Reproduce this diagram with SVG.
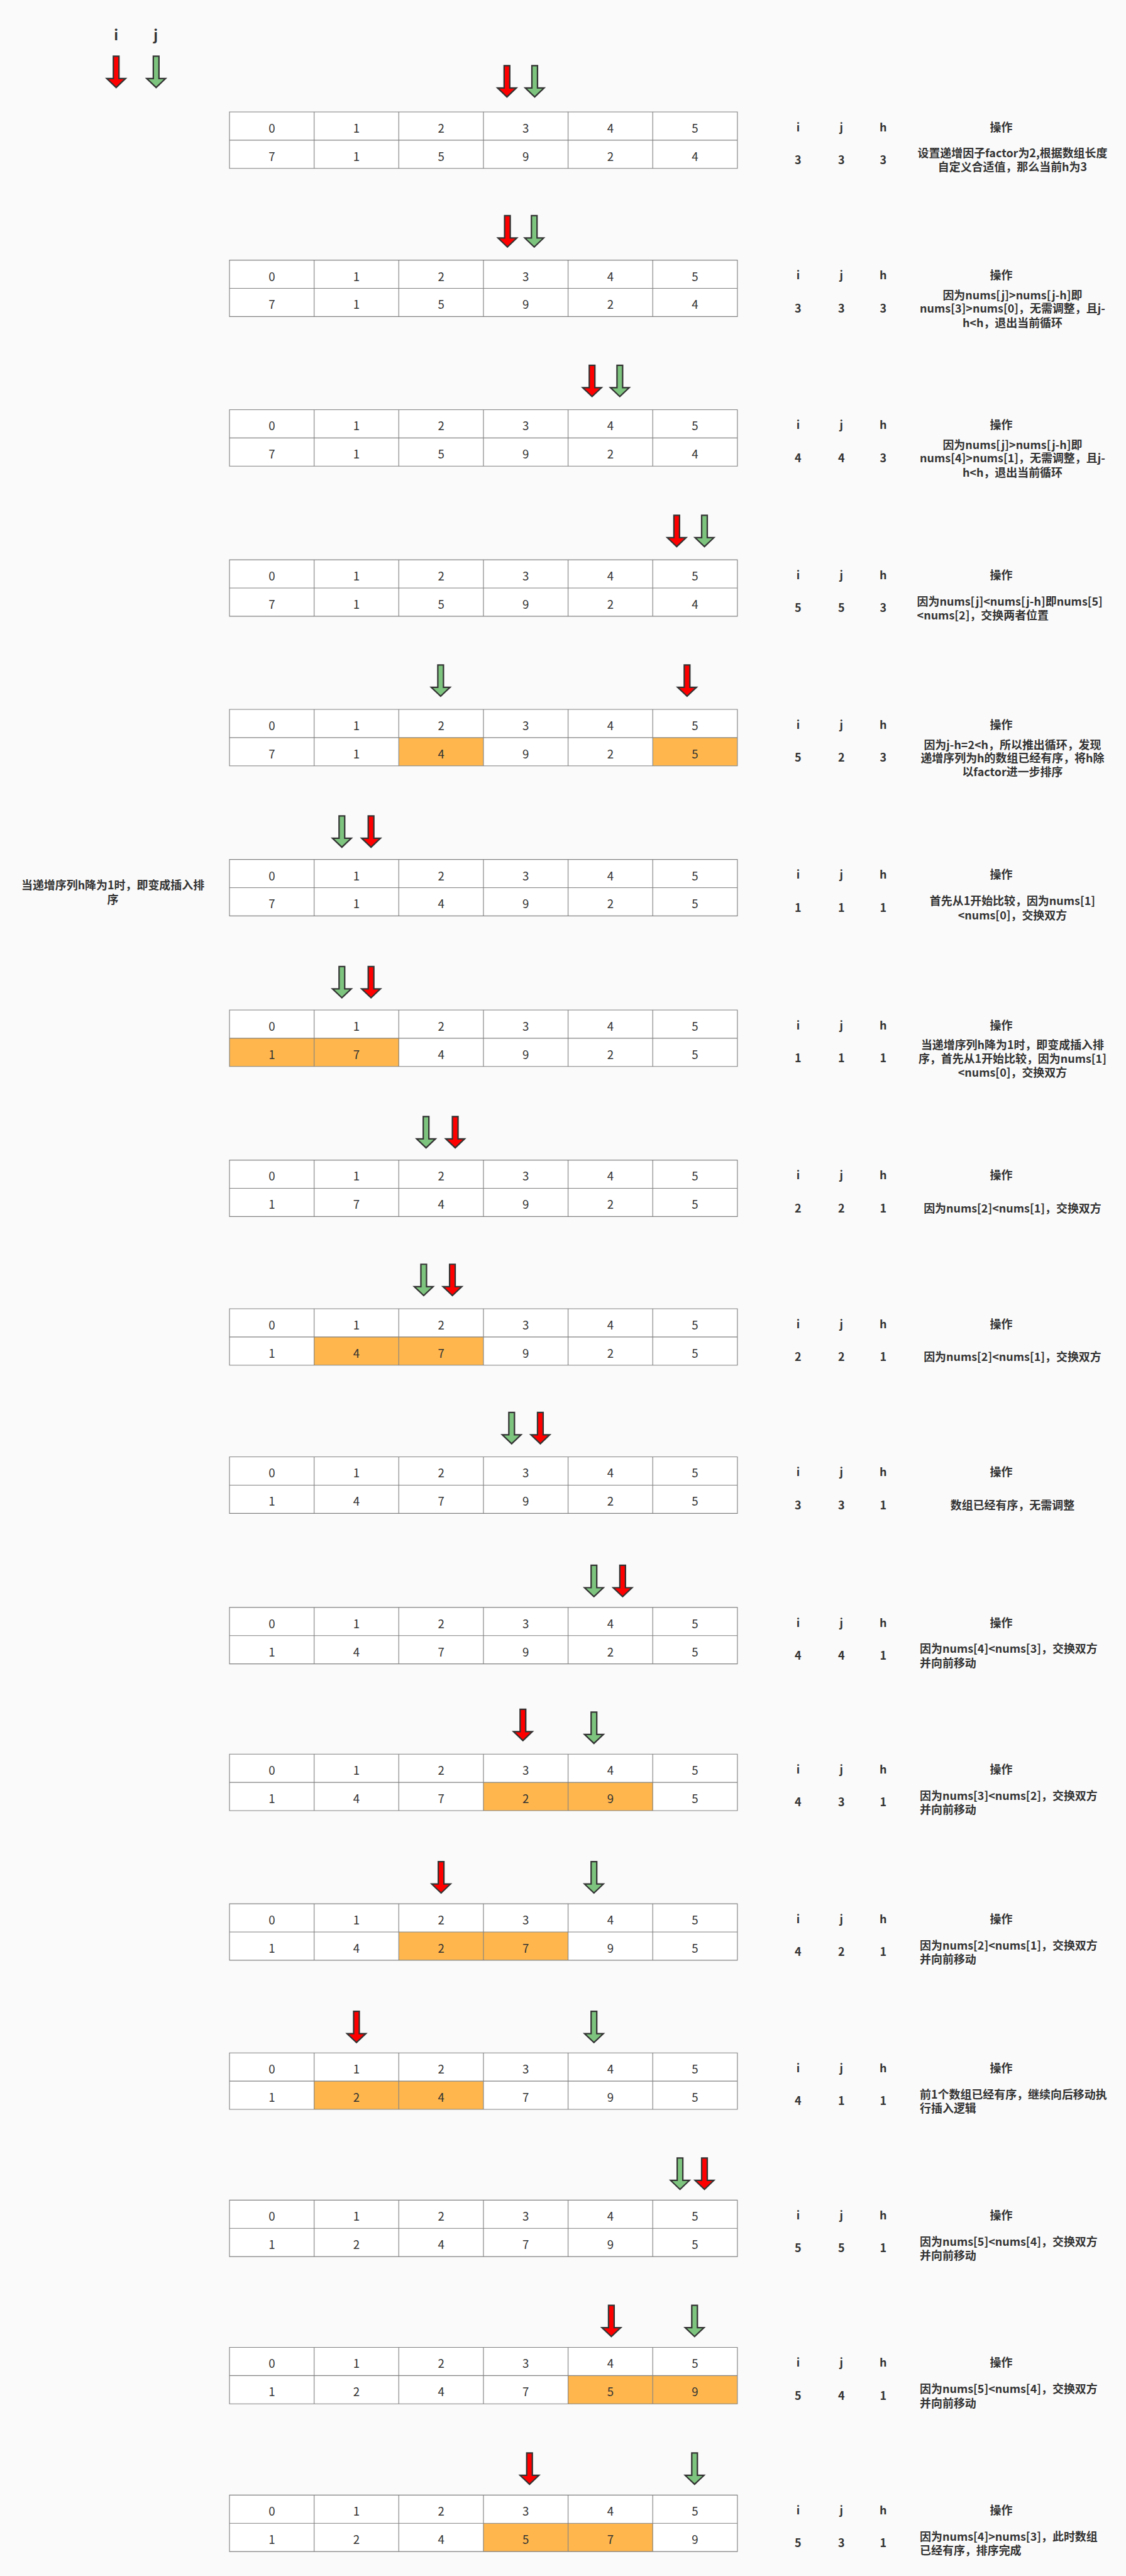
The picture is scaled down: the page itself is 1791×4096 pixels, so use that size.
<svg xmlns="http://www.w3.org/2000/svg" xmlns:xlink="http://www.w3.org/1999/xlink" width="1791" height="4096" viewBox="0 0 1791 4096">
<style>
.bg{fill:#ffffff}
.hl{fill:#FFB74D}
.grid{fill:none;stroke:#808080;stroke-width:1.5}
.num{font-family:"Noto Sans CJK SC","Noto Sans",sans-serif;font-size:25px;fill:#333333;text-anchor:middle}
.hdr{font-family:"Noto Sans CJK SC","Noto Sans",sans-serif;font-size:24px;font-weight:bold;fill:#333333;text-anchor:middle}
.op{font-family:"Noto Sans CJK SC","Noto Sans",sans-serif;font-size:24px;font-weight:bold;fill:#333333;text-anchor:middle}
.opl{font-family:"Noto Sans CJK SC","Noto Sans",sans-serif;font-size:24px;font-weight:bold;fill:#333333;text-anchor:start}
.leg{font-family:"Noto Sans CJK SC","Noto Sans",sans-serif;font-size:30px;font-weight:bold;fill:#333333;text-anchor:middle}
.red{fill:#FF0000}
.green{fill:#7DC47E}
.arrowshape{stroke:#333333;stroke-width:3;stroke-linejoin:miter}
</style>
<defs>
<path id="arrow" class="arrowshape" d="M-6,1.5H6V49H20L0,68L-20,49H-6Z"/>
<path id="grid" class="grid" d="M0,0H1080V120H0Z M0,60H1080 M180,0V120 M360,0V120 M540,0V120 M720,0V120 M900,0V120"/>
<g id="idxrow"><text class="num" y="44"><tspan x="90">0</tspan><tspan x="270">1</tspan><tspan x="450">2</tspan><tspan x="630">3</tspan><tspan x="810">4</tspan><tspan x="990">5</tspan></text></g>
<g id="hdrrow"><text class="hdr" y="41"><tspan x="1697">i</tspan><tspan x="1789">j</tspan><tspan x="1878">h</tspan><tspan x="2129">操作</tspan></text></g>
</defs>
<rect width="1791" height="4096" fill="#FAFAFA"/>
<g transform="scale(0.748)">

<g id="legend">
<text class="leg" x="247" y="85">i</text>
<text class="leg" x="331" y="85">j</text>
<use href="#arrow" x="247" y="118" class="red"/>
<use href="#arrow" x="332" y="118" class="green"/>
</g>

<g id="connectors"></g>

<!-- Step 1 -->
<g id="step1-array" transform="translate(488,238)"><rect class="bg" width="1080" height="120"/><use href="#grid"/><use href="#idxrow"/><text class="num" y="104"><tspan x="90">7</tspan><tspan x="270">1</tspan><tspan x="450">5</tspan><tspan x="630">9</tspan><tspan x="810">2</tspan><tspan x="990">4</tspan></text></g>
<g id="step1-pointers"><use href="#arrow" x="1078" y="138" class="red"/><use href="#arrow" x="1137" y="138" class="green"/></g>
<g id="step1-info" transform="translate(0,238)"><use href="#hdrrow"/><text class="hdr" y="111"><tspan x="1697">3</tspan><tspan x="1789">3</tspan><tspan x="1878">3</tspan></text><text class="op" x="2153" y="96">设置递增因子factor为2,根据数组长度</text><text class="op" x="2153" y="126">自定义合适值，那么当前h为3</text></g>

<!-- Step 2 -->
<g id="step2-array" transform="translate(488,553)"><rect class="bg" width="1080" height="120"/><use href="#grid"/><use href="#idxrow"/><text class="num" y="104"><tspan x="90">7</tspan><tspan x="270">1</tspan><tspan x="450">5</tspan><tspan x="630">9</tspan><tspan x="810">2</tspan><tspan x="990">4</tspan></text></g>
<g id="step2-pointers"><use href="#arrow" x="1079" y="457" class="red"/><use href="#arrow" x="1136" y="457" class="green"/></g>
<g id="step2-info" transform="translate(0,553)"><use href="#hdrrow"/><text class="hdr" y="111"><tspan x="1697">3</tspan><tspan x="1789">3</tspan><tspan x="1878">3</tspan></text><text class="op" x="2153" y="83">因为nums[j]&gt;nums[j-h]即</text><text class="op" x="2153" y="112">nums[3]&gt;nums[0]，无需调整，且j-</text><text class="op" x="2153" y="142">h&lt;h，退出当前循环</text></g>

<!-- Step 3 -->
<g id="step3-array" transform="translate(488,871)"><rect class="bg" width="1080" height="120"/><use href="#grid"/><use href="#idxrow"/><text class="num" y="104"><tspan x="90">7</tspan><tspan x="270">1</tspan><tspan x="450">5</tspan><tspan x="630">9</tspan><tspan x="810">2</tspan><tspan x="990">4</tspan></text></g>
<g id="step3-pointers"><use href="#arrow" x="1259" y="775" class="red"/><use href="#arrow" x="1318" y="775" class="green"/></g>
<g id="step3-info" transform="translate(0,871)"><use href="#hdrrow"/><text class="hdr" y="111"><tspan x="1697">4</tspan><tspan x="1789">4</tspan><tspan x="1878">3</tspan></text><text class="op" x="2153" y="83">因为nums[j]&gt;nums[j-h]即</text><text class="op" x="2153" y="112">nums[4]&gt;nums[1]，无需调整，且j-</text><text class="op" x="2153" y="142">h&lt;h，退出当前循环</text></g>

<!-- Step 4 -->
<g id="step4-array" transform="translate(488,1190)"><rect class="bg" width="1080" height="120"/><use href="#grid"/><use href="#idxrow"/><text class="num" y="104"><tspan x="90">7</tspan><tspan x="270">1</tspan><tspan x="450">5</tspan><tspan x="630">9</tspan><tspan x="810">2</tspan><tspan x="990">4</tspan></text></g>
<g id="step4-pointers"><use href="#arrow" x="1439" y="1094" class="red"/><use href="#arrow" x="1498" y="1094" class="green"/></g>
<g id="step4-info" transform="translate(0,1190)"><use href="#hdrrow"/><text class="hdr" y="111"><tspan x="1697">5</tspan><tspan x="1789">5</tspan><tspan x="1878">3</tspan></text><text class="opl" x="1950" y="97">因为nums[j]&lt;nums[j-h]即nums[5]</text><text class="opl" x="1950" y="127">&lt;nums[2]，交换两者位置</text></g>

<!-- Step 5 -->
<g id="step5-array" transform="translate(488,1508)"><rect class="bg" width="1080" height="120"/><rect class="hl" x="360" y="60" width="180" height="60"/><rect class="hl" x="900" y="60" width="180" height="60"/><use href="#grid"/><use href="#idxrow"/><text class="num" y="104"><tspan x="90">7</tspan><tspan x="270">1</tspan><tspan x="450">4</tspan><tspan x="630">9</tspan><tspan x="810">2</tspan><tspan x="990">5</tspan></text></g>
<g id="step5-pointers"><use href="#arrow" x="937" y="1412" class="green"/><use href="#arrow" x="1461" y="1412" class="red"/></g>
<g id="step5-info" transform="translate(0,1508)"><use href="#hdrrow"/><text class="hdr" y="111"><tspan x="1697">5</tspan><tspan x="1789">2</tspan><tspan x="1878">3</tspan></text><text class="op" x="2153" y="84">因为j-h=2&lt;h，所以推出循环，发现</text><text class="op" x="2153" y="113">递增序列为h的数组已经有序，将h除</text><text class="op" x="2153" y="142">以factor进一步排序</text></g>

<!-- Step 6 -->
<g id="note-insertion"><text class="op" x="240" y="1891">当递增序列h降为1时，即变成插入排</text><text class="op" x="240" y="1921">序</text></g>
<g id="step6-array" transform="translate(488,1827)"><rect class="bg" width="1080" height="120"/><use href="#grid"/><use href="#idxrow"/><text class="num" y="104"><tspan x="90">7</tspan><tspan x="270">1</tspan><tspan x="450">4</tspan><tspan x="630">9</tspan><tspan x="810">2</tspan><tspan x="990">5</tspan></text></g>
<g id="step6-pointers"><use href="#arrow" x="727" y="1733" class="green"/><use href="#arrow" x="789" y="1733" class="red"/></g>
<g id="step6-info" transform="translate(0,1827)"><use href="#hdrrow"/><text class="hdr" y="111"><tspan x="1697">1</tspan><tspan x="1789">1</tspan><tspan x="1878">1</tspan></text><text class="op" x="2153" y="97">首先从1开始比较，因为nums[1]</text><text class="op" x="2153" y="127">&lt;nums[0]，交换双方</text></g>

<!-- Step 7 -->
<g id="step7-array" transform="translate(488,2147)"><rect class="bg" width="1080" height="120"/><rect class="hl" x="0" y="60" width="180" height="60"/><rect class="hl" x="180" y="60" width="180" height="60"/><use href="#grid"/><use href="#idxrow"/><text class="num" y="104"><tspan x="90">1</tspan><tspan x="270">7</tspan><tspan x="450">4</tspan><tspan x="630">9</tspan><tspan x="810">2</tspan><tspan x="990">5</tspan></text></g>
<g id="step7-pointers"><use href="#arrow" x="727" y="2053" class="green"/><use href="#arrow" x="789" y="2053" class="red"/></g>
<g id="step7-info" transform="translate(0,2147)"><use href="#hdrrow"/><text class="hdr" y="111"><tspan x="1697">1</tspan><tspan x="1789">1</tspan><tspan x="1878">1</tspan></text><text class="op" x="2153" y="83">当递增序列h降为1时，即变成插入排</text><text class="op" x="2153" y="112">序，首先从1开始比较，因为nums[1]</text><text class="op" x="2153" y="142">&lt;nums[0]，交换双方</text></g>

<!-- Step 8 -->
<g id="step8-array" transform="translate(488,2466)"><rect class="bg" width="1080" height="120"/><use href="#grid"/><use href="#idxrow"/><text class="num" y="104"><tspan x="90">1</tspan><tspan x="270">7</tspan><tspan x="450">4</tspan><tspan x="630">9</tspan><tspan x="810">2</tspan><tspan x="990">5</tspan></text></g>
<g id="step8-pointers"><use href="#arrow" x="906" y="2372" class="green"/><use href="#arrow" x="968" y="2372" class="red"/></g>
<g id="step8-info" transform="translate(0,2466)"><use href="#hdrrow"/><text class="hdr" y="111"><tspan x="1697">2</tspan><tspan x="1789">2</tspan><tspan x="1878">1</tspan></text><text class="op" x="2153" y="111">因为nums[2]&lt;nums[1]，交换双方</text></g>

<!-- Step 9 -->
<g id="step9-array" transform="translate(488,2782)"><rect class="bg" width="1080" height="120"/><rect class="hl" x="180" y="60" width="180" height="60"/><rect class="hl" x="360" y="60" width="180" height="60"/><use href="#grid"/><use href="#idxrow"/><text class="num" y="104"><tspan x="90">1</tspan><tspan x="270">4</tspan><tspan x="450">7</tspan><tspan x="630">9</tspan><tspan x="810">2</tspan><tspan x="990">5</tspan></text></g>
<g id="step9-pointers"><use href="#arrow" x="901" y="2686" class="green"/><use href="#arrow" x="962" y="2686" class="red"/></g>
<g id="step9-info" transform="translate(0,2782)"><use href="#hdrrow"/><text class="hdr" y="111"><tspan x="1697">2</tspan><tspan x="1789">2</tspan><tspan x="1878">1</tspan></text><text class="op" x="2153" y="111">因为nums[2]&lt;nums[1]，交换双方</text></g>

<!-- Step 10 -->
<g id="step10-array" transform="translate(488,3097)"><rect class="bg" width="1080" height="120"/><use href="#grid"/><use href="#idxrow"/><text class="num" y="104"><tspan x="90">1</tspan><tspan x="270">4</tspan><tspan x="450">7</tspan><tspan x="630">9</tspan><tspan x="810">2</tspan><tspan x="990">5</tspan></text></g>
<g id="step10-pointers"><use href="#arrow" x="1088" y="3001" class="green"/><use href="#arrow" x="1149" y="3001" class="red"/></g>
<g id="step10-info" transform="translate(0,3097)"><use href="#hdrrow"/><text class="hdr" y="111"><tspan x="1697">3</tspan><tspan x="1789">3</tspan><tspan x="1878">1</tspan></text><text class="op" x="2153" y="111">数组已经有序，无需调整</text></g>

<!-- Step 11 -->
<g id="step11-array" transform="translate(488,3417)"><rect class="bg" width="1080" height="120"/><use href="#grid"/><use href="#idxrow"/><text class="num" y="104"><tspan x="90">1</tspan><tspan x="270">4</tspan><tspan x="450">7</tspan><tspan x="630">9</tspan><tspan x="810">2</tspan><tspan x="990">5</tspan></text></g>
<g id="step11-pointers"><use href="#arrow" x="1263" y="3326" class="green"/><use href="#arrow" x="1324" y="3326" class="red"/></g>
<g id="step11-info" transform="translate(0,3417)"><use href="#hdrrow"/><text class="hdr" y="111"><tspan x="1697">4</tspan><tspan x="1789">4</tspan><tspan x="1878">1</tspan></text><text class="opl" x="1956" y="97">因为nums[4]&lt;nums[3]，交换双方</text><text class="opl" x="1956" y="127">并向前移动</text></g>

<!-- Step 12 -->
<g id="step12-array" transform="translate(488,3729)"><rect class="bg" width="1080" height="120"/><rect class="hl" x="540" y="60" width="180" height="60"/><rect class="hl" x="720" y="60" width="180" height="60"/><use href="#grid"/><use href="#idxrow"/><text class="num" y="104"><tspan x="90">1</tspan><tspan x="270">4</tspan><tspan x="450">7</tspan><tspan x="630">2</tspan><tspan x="810">9</tspan><tspan x="990">5</tspan></text></g>
<g id="step12-pointers"><use href="#arrow" x="1112" y="3632" class="red"/><use href="#arrow" x="1263" y="3638" class="green"/></g>
<g id="step12-info" transform="translate(0,3729)"><use href="#hdrrow"/><text class="hdr" y="111"><tspan x="1697">4</tspan><tspan x="1789">3</tspan><tspan x="1878">1</tspan></text><text class="opl" x="1956" y="97">因为nums[3]&lt;nums[2]，交换双方</text><text class="opl" x="1956" y="127">并向前移动</text></g>

<!-- Step 13 -->
<g id="step13-array" transform="translate(488,4047)"><rect class="bg" width="1080" height="120"/><rect class="hl" x="360" y="60" width="180" height="60"/><rect class="hl" x="540" y="60" width="180" height="60"/><use href="#grid"/><use href="#idxrow"/><text class="num" y="104"><tspan x="90">1</tspan><tspan x="270">4</tspan><tspan x="450">2</tspan><tspan x="630">7</tspan><tspan x="810">9</tspan><tspan x="990">5</tspan></text></g>
<g id="step13-pointers"><use href="#arrow" x="938" y="3956" class="red"/><use href="#arrow" x="1263" y="3956" class="green"/></g>
<g id="step13-info" transform="translate(0,4047)"><use href="#hdrrow"/><text class="hdr" y="111"><tspan x="1697">4</tspan><tspan x="1789">2</tspan><tspan x="1878">1</tspan></text><text class="opl" x="1956" y="97">因为nums[2]&lt;nums[1]，交换双方</text><text class="opl" x="1956" y="127">并向前移动</text></g>

<!-- Step 14 -->
<g id="step14-array" transform="translate(488,4364)"><rect class="bg" width="1080" height="120"/><rect class="hl" x="180" y="60" width="180" height="60"/><rect class="hl" x="360" y="60" width="180" height="60"/><use href="#grid"/><use href="#idxrow"/><text class="num" y="104"><tspan x="90">1</tspan><tspan x="270">2</tspan><tspan x="450">4</tspan><tspan x="630">7</tspan><tspan x="810">9</tspan><tspan x="990">5</tspan></text></g>
<g id="step14-pointers"><use href="#arrow" x="758" y="4274" class="red"/><use href="#arrow" x="1263" y="4274" class="green"/></g>
<g id="step14-info" transform="translate(0,4364)"><use href="#hdrrow"/><text class="hdr" y="111"><tspan x="1697">4</tspan><tspan x="1789">1</tspan><tspan x="1878">1</tspan></text><text class="opl" x="1956" y="97">前1个数组已经有序，继续向后移动执</text><text class="opl" x="1956" y="127">行插入逻辑</text></g>

<!-- Step 15 -->
<g id="step15-array" transform="translate(488,4677)"><rect class="bg" width="1080" height="120"/><use href="#grid"/><use href="#idxrow"/><text class="num" y="104"><tspan x="90">1</tspan><tspan x="270">2</tspan><tspan x="450">4</tspan><tspan x="630">7</tspan><tspan x="810">9</tspan><tspan x="990">5</tspan></text></g>
<g id="step15-pointers"><use href="#arrow" x="1446" y="4586" class="green"/><use href="#arrow" x="1498" y="4586" class="red"/></g>
<g id="step15-info" transform="translate(0,4677)"><use href="#hdrrow"/><text class="hdr" y="111"><tspan x="1697">5</tspan><tspan x="1789">5</tspan><tspan x="1878">1</tspan></text><text class="opl" x="1956" y="97">因为nums[5]&lt;nums[4]，交换双方</text><text class="opl" x="1956" y="127">并向前移动</text></g>

<!-- Step 16 -->
<g id="step16-array" transform="translate(488,4990)"><rect class="bg" width="1080" height="120"/><rect class="hl" x="720" y="60" width="180" height="60"/><rect class="hl" x="900" y="60" width="180" height="60"/><use href="#grid"/><use href="#idxrow"/><text class="num" y="104"><tspan x="90">1</tspan><tspan x="270">2</tspan><tspan x="450">4</tspan><tspan x="630">7</tspan><tspan x="810">5</tspan><tspan x="990">9</tspan></text></g>
<g id="step16-pointers"><use href="#arrow" x="1300" y="4899" class="red"/><use href="#arrow" x="1477" y="4899" class="green"/></g>
<g id="step16-info" transform="translate(0,4990)"><use href="#hdrrow"/><text class="hdr" y="111"><tspan x="1697">5</tspan><tspan x="1789">4</tspan><tspan x="1878">1</tspan></text><text class="opl" x="1956" y="97">因为nums[5]&lt;nums[4]，交换双方</text><text class="opl" x="1956" y="127">并向前移动</text></g>

<!-- Step 17 -->
<g id="step17-array" transform="translate(488,5304)"><rect class="bg" width="1080" height="120"/><rect class="hl" x="540" y="60" width="180" height="60"/><rect class="hl" x="720" y="60" width="180" height="60"/><use href="#grid"/><use href="#idxrow"/><text class="num" y="104"><tspan x="90">1</tspan><tspan x="270">2</tspan><tspan x="450">4</tspan><tspan x="630">5</tspan><tspan x="810">7</tspan><tspan x="990">9</tspan></text></g>
<g id="step17-pointers"><use href="#arrow" x="1126" y="5213" class="red"/><use href="#arrow" x="1477" y="5213" class="green"/></g>
<g id="step17-info" transform="translate(0,5304)"><use href="#hdrrow"/><text class="hdr" y="111"><tspan x="1697">5</tspan><tspan x="1789">3</tspan><tspan x="1878">1</tspan></text><text class="opl" x="1956" y="97">因为nums[4]&gt;nums[3]，此时数组</text><text class="opl" x="1956" y="127">已经有序，排序完成</text></g>

</g>
</svg>
